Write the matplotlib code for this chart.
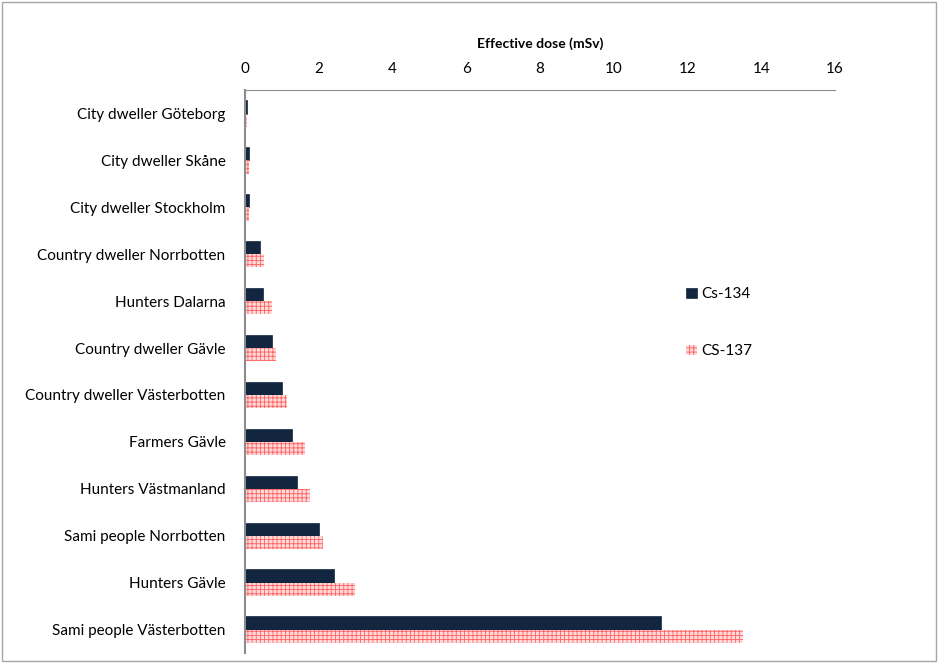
import matplotlib.pyplot as plt
import matplotlib.patches as mpatches
import numpy as np

plt.rcParams['font.family'] = ['Lato', 'DejaVu Sans']
plt.rcParams['hatch.linewidth'] = 0.6

groups = ['City dweller Göteborg', 'City dweller Skåne', 'City dweller Stockholm',
          'Country dweller Norrbotten', 'Hunters Dalarna', 'Country dweller Gävle',
          'Country dweller Västerbotten', 'Farmers Gävle', 'Hunters Västmanland',
          'Sami people Norrbotten', 'Hunters Gävle', 'Sami people Västerbotten']
cs134 = [0.05, 0.1, 0.1, 0.41, 0.5, 0.73, 1.0, 1.27, 1.41, 2.0, 2.41, 11.27]
cs137 = [0.05, 0.1, 0.1, 0.51, 0.73, 0.84, 1.15, 1.63, 1.76, 2.11, 2.98, 13.5]
xticks = [0, 2, 4, 6, 8, 10, 12, 14, 16]

fig = plt.figure(figsize=(9.38, 6.63), dpi=100)
ax = fig.add_axes([0.2612, 0.0151, 0.629, 0.849])

y = np.arange(len(groups))
h = 0.28
ax.barh(y - h / 2, cs134, height=h, color='#132640', edgecolor='#132640',
        linewidth=0.5, label='Cs-134')
ax.barh(y + h / 2, cs137, height=h, color='#ffdada', edgecolor='#ff6060',
        hatch='++++', linewidth=0, label='CS-137')

ax.set_ylim(len(groups) - 0.5, -0.5)
ax.set_xlim(0, 16)
ax.set_xticks(xticks)
ax.xaxis.tick_top()
ax.xaxis.set_label_position('top')
ax.set_xlabel('Effective dose (mSv)', fontsize=10, fontweight='bold', labelpad=10)
ax.set_yticks(y)
ax.set_yticklabels(groups, fontsize=11)
ax.tick_params(axis='x', labelsize=11, length=0, pad=10)
ax.tick_params(axis='y', length=0, pad=14)

for s in ['right', 'bottom']:
    ax.spines[s].set_visible(False)
ax.spines['top'].set_color('#8c8c8c')
ax.spines['left'].set_color('#8c8c8c')
ax.spines['left'].set_linewidth(1.5)

ax.legend(loc='center left', bbox_to_anchor=(0.717, 0.513), bbox_transform=fig.transFigure,
          frameon=False, fontsize=11, labelspacing=2.8, handlelength=0.7,
          handleheight=0.7, handletextpad=0.3)

fig.patches.append(mpatches.Rectangle((0.002, 0.003), 0.996, 0.994, transform=fig.transFigure,
                                      fill=False, edgecolor='#a6a6a6', linewidth=1))

plt.savefig('out.png', dpi=100)
